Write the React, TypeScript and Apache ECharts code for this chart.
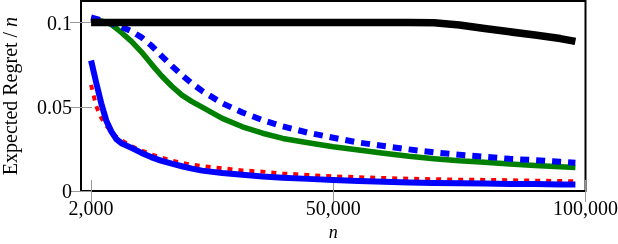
import React, { useEffect, useRef } from "react";
import * as echarts from "echarts";

const xValues = [2000, 3000, 4000, 5000, 6000, 7000, 8000, 10000, 12000, 14000, 16000, 18000, 20000, 22000, 24000, 28000, 32000, 36000, 40000, 45000, 50000, 55000, 60000, 65000, 70000, 75000, 80000, 85000, 90000, 95000, 98000];

const blackValues = [0.1, 0.1, 0.1, 0.1, 0.1, 0.1, 0.1, 0.1, 0.1, 0.1, 0.1, 0.1, 0.1, 0.1, 0.1, 0.1, 0.1, 0.1, 0.1, 0.1, 0.1, 0.1, 0.1, 0.1, 0.0999, 0.0986, 0.0965, 0.0945, 0.0926, 0.0905, 0.0888];
const greenValues = [0.102, 0.1015, 0.101, 0.1002, 0.0988, 0.0966, 0.0941, 0.0888, 0.0825, 0.0752, 0.0683, 0.0622, 0.0569, 0.0531, 0.0498, 0.0431, 0.0381, 0.0343, 0.0312, 0.0286, 0.0263, 0.0244, 0.0224, 0.0206, 0.0192, 0.0179, 0.017, 0.0161, 0.0152, 0.0144, 0.014];
const blueDashedValues = [0.103, 0.1022, 0.1013, 0.1003, 0.0995, 0.0985, 0.0975, 0.0948, 0.0912, 0.0862, 0.0801, 0.0743, 0.0688, 0.0638, 0.0594, 0.0521, 0.0466, 0.0421, 0.0384, 0.0346, 0.0316, 0.0288, 0.0267, 0.0247, 0.0229, 0.0215, 0.0203, 0.0191, 0.0183, 0.0173, 0.0168];
const redDottedValues = [0.063, 0.0505, 0.0435, 0.0388, 0.0352, 0.0322, 0.0302, 0.0265, 0.024, 0.0217, 0.0198, 0.018, 0.0167, 0.0156, 0.0148, 0.0135, 0.0122, 0.0115, 0.0104, 0.0095, 0.0087, 0.0082, 0.0077, 0.0073, 0.007, 0.0067, 0.0066, 0.0064, 0.0061, 0.0059, 0.0058];
const blueSolidValues = [0.0775, 0.0645, 0.0522, 0.0419, 0.0354, 0.0308, 0.0284, 0.0256, 0.0226, 0.02, 0.0179, 0.0162, 0.0147, 0.0133, 0.0121, 0.0107, 0.0096, 0.0086, 0.0079, 0.0072, 0.0066, 0.0059, 0.0055, 0.0051, 0.0048, 0.0046, 0.0044, 0.0042, 0.0041, 0.0039, 0.0038];

const xTicks = [2000, 50000, 100000];
const yTicks = [0, 0.05, 0.1];

const FONT = "Liberation Serif";
const TICK_COLOR = "#999999";

const pairs = (ys: number[]) => xValues.map((x, i) => [x, ys[i]]);

export default function App() {
  const ref = useRef<HTMLDivElement>(null);
  useEffect(() => {
    if (!ref.current) return;
    const chart = echarts.init(ref.current, null, { renderer: "svg" });
    const tickStyle = { show: true, inside: true, length: 11, lineStyle: { color: TICK_COLOR, width: 1 } };
    const lineSeries = (name: string, data: number[], color: string, width: number, type: any, z: number) => ({
      name,
      type: "line",
      data: pairs(data),
      symbol: "none",
      smooth: false,
      z,
      lineStyle: { color, width, type, cap: "butt", join: "round" },
    });
    chart.setOption({
      animation: false,
      grid: {
        left: 81,
        top: 1,
        width: 504.5,
        height: 190,
        show: true,
        borderColor: "#000",
        borderWidth: 2,
        backgroundColor: "transparent",
        containLabel: false,
        outerBoundsMode: "none",
      },
      xAxis: [
        {
          type: "value",
          min: 0,
          max: 100000,
          position: "bottom",
          splitLine: { show: false },
          axisLine: { show: false },
          axisTick: { ...tickStyle, customValues: xTicks },
          axisLabel: {
            customValues: xTicks,
            margin: 7,
            color: "#000",
            fontFamily: FONT,
            fontSize: 20,
            formatter: (v: number) => v.toLocaleString("en-US"),
          },
          name: "n",
          nameLocation: "middle",
          nameGap: 35,
          nameTextStyle: { color: "#000", fontFamily: FONT, fontSize: 18, fontStyle: "italic", lineHeight: 12 },
        },
        {
          type: "value",
          min: 0,
          max: 100000,
          position: "top",
          splitLine: { show: false },
          axisLine: { show: false },
          axisTick: { ...tickStyle, customValues: xTicks },
          axisLabel: { show: false },
        },
      ],
      yAxis: [
        {
          type: "value",
          min: 0,
          max: 0.1128,
          position: "left",
          splitLine: { show: false },
          axisLine: { show: false },
          axisTick: { ...tickStyle, customValues: yTicks },
          axisLabel: {
            customValues: yTicks,
            margin: 9,
            color: "#000",
            fontFamily: FONT,
            fontSize: 20,
            formatter: (v: number) => String(v),
          },
          name: "Expected Regret / {i|n}",
          nameLocation: "middle",
          nameGap: 64,
          nameTextStyle: {
            color: "#000",
            fontFamily: FONT,
            fontSize: 20,
            lineHeight: 15,
            rich: { i: { fontStyle: "italic", fontFamily: FONT, fontSize: 20, lineHeight: 15, color: "#000" } },
          },
        },
        {
          type: "value",
          min: 0,
          max: 0.1128,
          position: "right",
          splitLine: { show: false },
          axisLine: { show: false },
          axisTick: { ...tickStyle, customValues: yTicks },
          axisLabel: { show: false },
        },
      ],
      series: [
        lineSeries("green", greenValues, "#008000", 5.5, "solid", 2),
        lineSeries("blueDashed", blueDashedValues, "#0000ff", 6, [9, 7], 3),
        lineSeries("redDotted", redDottedValues, "#ff0000", 4, [5, 6], 4),
        lineSeries("blueSolid", blueSolidValues, "#0000ff", 6, "solid", 5),
        lineSeries("black", blackValues, "#000000", 7.5, "solid", 6),
      ],
    });
    return () => chart.dispose();
  }, []);
  return <div ref={ref} style={{ position: "fixed", left: 0, top: 0, width: 618, height: 244 }} />;
}
